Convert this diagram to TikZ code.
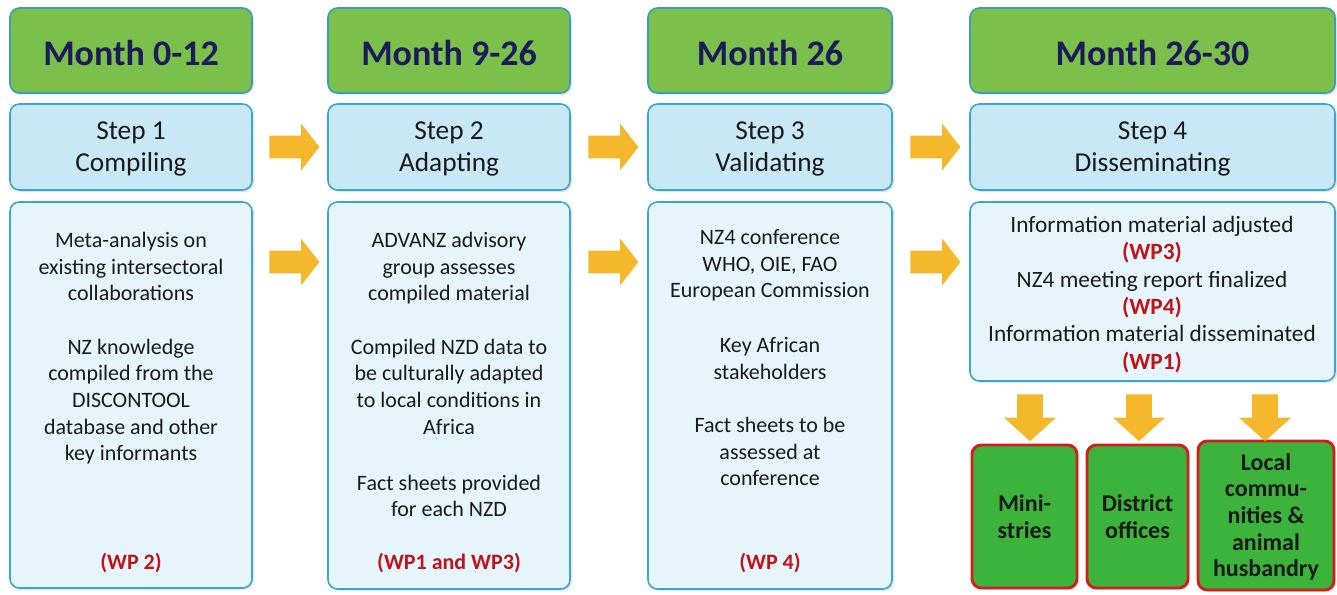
\documentclass[tikz,border=0pt]{standalone}
\usepackage{fontspec}
\setmainfont{Carlito}
\usetikzlibrary{shapes.arrows,fit,calc,shadows}
\definecolor{monthgreen}{HTML}{7AC04A}
\definecolor{monthborder}{HTML}{3A9FB8}
\definecolor{stepfill}{HTML}{C8E8F6}
\definecolor{boxborder}{HTML}{3AA6D2}
\definecolor{contfill}{HTML}{E6F5FC}
\definecolor{navytext}{HTML}{1E1B5A}
\definecolor{wpred}{HTML}{C0141C}
\definecolor{tgtgreen}{HTML}{3CB43C}
\definecolor{tgtred}{HTML}{D41E1E}
\definecolor{arrowfill}{HTML}{F5B82D}
\definecolor{bodytext}{HTML}{1A1A1A}
\begin{document}
\begin{tikzpicture}[x=0.75pt,y=-0.75pt,
  softshadow/.style={drop shadow={opacity=0.22,shadow xshift=1.5pt,shadow yshift=-1.5pt}},
  monthbox/.style={draw=monthborder,line width=1.2pt,fill=monthgreen,rounded corners=7pt,inner sep=0pt,softshadow},
  monthtext/.style={font=\fontsize{27}{30}\selectfont\bfseries,text=navytext},
  stepbox/.style={draw=boxborder,line width=1.2pt,fill=stepfill,rounded corners=7pt,inner sep=0pt,softshadow},
  steptext/.style={font=\fontsize{20.5}{24}\selectfont,text=bodytext,align=center},
  contbox/.style={draw=boxborder,line width=1.2pt,fill=contfill,rounded corners=7pt,inner sep=0pt,softshadow},
  conttext/.style={anchor=north,inner sep=0pt,align=center,font=\fontsize{16.5}{20}\selectfont,text=bodytext},
  wptext/.style={inner sep=0pt,font=\fontsize{16.5}{20}\selectfont\bfseries,text=wpred},
  tgtbox/.style={draw=tgtred,line width=2.2pt,fill=tgtgreen,rounded corners=7pt,inner sep=0pt,softshadow},
  tgttext/.style={font=\fontsize{18}{20.5}\selectfont\bfseries,text=bodytext,align=center},
  rarrow/.style={single arrow,fill=arrowfill,draw=none,inner xsep=0pt,inner ysep=8.25pt,minimum width=34.5pt,minimum height=37.5pt,
    single arrow head extend=9pt,single arrow tip angle=104},
  darrow/.style={single arrow,fill=arrowfill,draw=none,inner xsep=0pt,inner ysep=9.4pt,minimum width=39pt,minimum height=35pt,
    single arrow head extend=10pt,single arrow tip angle=96,rotate=-90}
]
\useasboundingbox (0,0) rectangle (1337,594);

% Month boxes
\node[monthbox,fit={(10,8)(252,93)}] (m1) {};
\node[monthtext] at ([yshift=-1.5pt]m1) {Month 0-12};
\node[monthbox,fit={(328,8)(570,93)}] (m2) {};
\node[monthtext] at ([yshift=-1.5pt]m2) {Month 9-26};
\node[monthbox,fit={(648,8)(892,93)}] (m3) {};
\node[monthtext] at ([yshift=-1.5pt]m3) {Month 26};
\node[monthbox,fit={(970,8)(1335,93)}] (m4) {};
\node[monthtext] at ([yshift=-1.5pt]m4) {Month 26-30};

% Step boxes
\node[stepbox,fit={(10,104)(252,190)}] (s1) {};
\node[steptext] at ([yshift=-1.5pt]s1) {Step 1\\Compiling};
\node[stepbox,fit={(328,104)(570,190)}] (s2) {};
\node[steptext] at ([yshift=-1.5pt]s2) {Step 2\\Adapting};
\node[stepbox,fit={(648,104)(892,190)}] (s3) {};
\node[steptext] at ([yshift=-1.5pt]s3) {Step 3\\Validating};
\node[stepbox,fit={(970,104)(1335,190)}] (s4) {};
\node[steptext] at ([yshift=-1.5pt]s4) {Step 4\\Disseminating};

% Content boxes
\node[contbox,fit={(10,202)(252,588)}] (c1) {};
\node[contbox,fit={(328,202)(570,589)}] (c2) {};
\node[contbox,fit={(648,202)(892,589)}] (c3) {};
\node[contbox,fit={(970,202)(1335,381)}] (c4) {};

\node[conttext] (t1) at (131,232) {Meta-analysis on\\existing intersectoral\\collaborations\\[20pt]NZ knowledge\\compiled from the\\DISCONTOOL\\database and other\\key informants};
\node[wptext] (w1) at (131,563) {(WP 2)};

\node[conttext] (t2) at (449,232) {ADVANZ advisory\\group assesses\\compiled material\\[20pt]Compiled NZD data to\\be culturally adapted\\to local conditions in\\Africa\\[22pt]Fact sheets provided\\for each NZD};
\node[wptext] (w2) at (449,563) {(WP1 and WP3)};

\node[conttext] (t3) at (770,229) {NZ4 conference\\WHO, OIE, FAO\\European Commission\\[21pt]Key African\\stakeholders\\[20pt]Fact sheets to be\\assessed at\\conference};
\node[wptext] (w3) at (770,563) {(WP 4)};

\node[conttext,font=\fontsize{17.5}{20.5}\selectfont] (t4) at (1152,216) {Information material adjusted\\\textcolor{wpred}{\bfseries (WP3)}\\NZ4 meeting report finalized\\\textcolor{wpred}{\bfseries (WP4)}\\Information material disseminated\\\textcolor{wpred}{\bfseries (WP1)}};

% Target boxes
\node[tgtbox,fit={(972,445)(1077,588)}] (g1) {};
\node[tgttext] at (g1) {Mini-\\stries};
\node[tgtbox,fit={(1087,445)(1188,588)}] (g2) {};
\node[tgttext] at (g2) {District\\offices};
\node[tgtbox,fit={(1198,441)(1334,590)}] (g3) {};
\node[tgttext,font=\fontsize{18}{20}\selectfont\bfseries] at ([yshift=-1pt]g3) {Local\\commu-\\nities \&\\animal\\husbandry};

% Arrows
\node[rarrow] (a1) at ($(s1.east)!0.5!(s2.west)$) {};
\node[rarrow] (a2) at ($(s2.east)!0.5!(s3.west)$) {};
\node[rarrow] (a3) at ($(s3.east)!0.5!(s4.west)$) {};
\node[rarrow] (b1) at ($(c1.east|-0,262)!0.5!(c2.west|-0,262)$) {};
\node[rarrow] (b2) at ($(c2.east|-0,262)!0.5!(c3.west|-0,262)$) {};
\node[rarrow] (b3) at ($(c3.east|-0,262)!0.5!(c4.west|-0,262)$) {};
\node[darrow] (d1) at (1030,412) {};
\node[darrow] (d2) at (1139,412) {};
\node[darrow] (d3) at (1265,412) {};
\end{tikzpicture}
\end{document}
